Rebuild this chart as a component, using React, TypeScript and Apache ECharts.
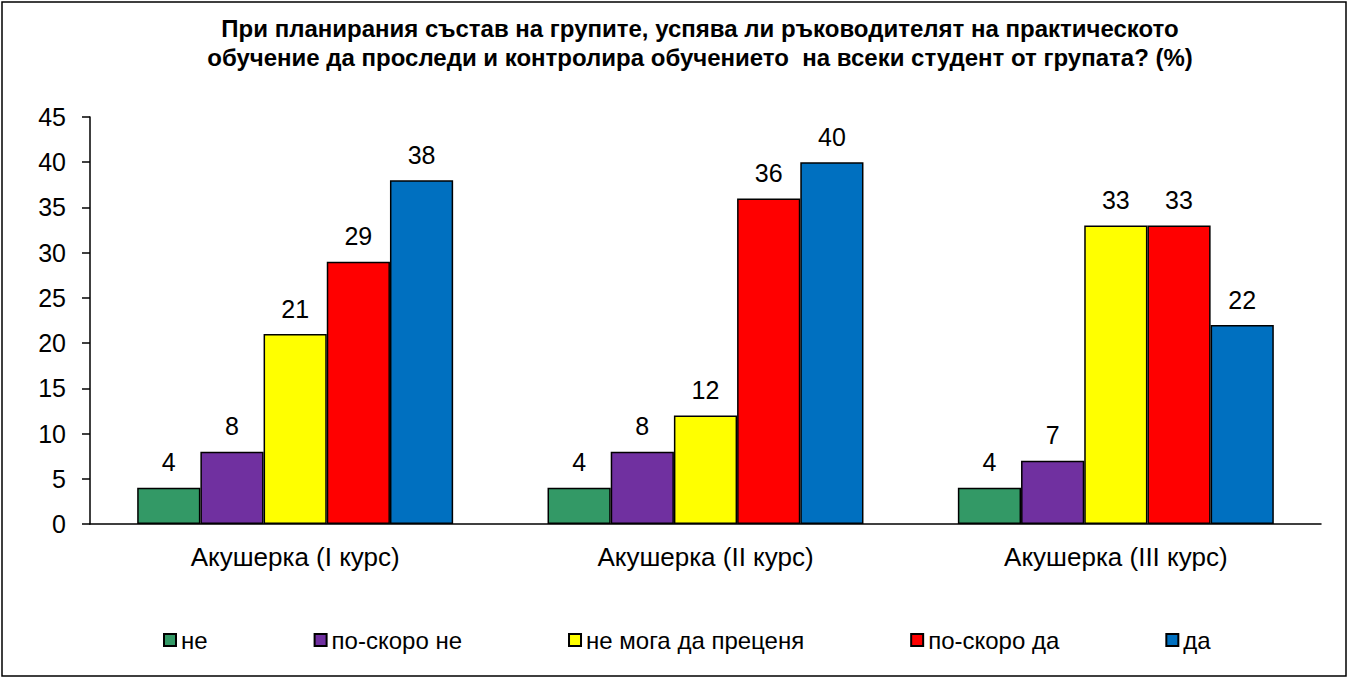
import React, { useEffect, useRef } from "react";
import * as echarts from "echarts";

const titleLines = [
  "При планирания състав на групите, успява ли ръководителят на практическото",
  "обучение да проследи и контролира обучението  на всеки студент от групата? (%)",
];
const categories = ["Акушерка (I курс)", "Акушерка (II курс)", "Акушерка (III курс)"];
const seriesNames = ["не", "по-скоро не", "не мога да преценя", "по-скоро да", "да"];
const seriesColors = ["#339966", "#7030A0", "#FFFF00", "#FF0000", "#0070C0"];
const neValues = [4, 4, 4];
const poSkoroNeValues = [8, 8, 7];
const neMogaValues = [21, 12, 33];
const poSkoroDaValues = [29, 36, 33];
const daValues = [38, 40, 22];
const seriesValues = [neValues, poSkoroNeValues, neMogaValues, poSkoroDaValues, daValues];

const FONT = "'Liberation Sans', Arial, sans-serif";

export default function App() {
  const ref = useRef<HTMLDivElement>(null);
  useEffect(() => {
    document.body.style.margin = "0";
    const chart = echarts.init(ref.current!, null, { renderer: "svg" });
    chart.setOption({
      animation: false,
      backgroundColor: "#ffffff",
      textStyle: { fontFamily: FONT },
      graphic: [
        {
          type: "rect",
          shape: { x: 2, y: 2, width: 1344, height: 674 },
          style: { fill: "none", stroke: "#000", lineWidth: 1.5 },
          silent: true,
        },
        {
          type: "text",
          x: 700,
          y: 14,
          silent: true,
          style: {
            text: titleLines.join("\n"),
            align: "center",
            verticalAlign: "top",
            fontFamily: FONT,
            fontSize: 24,
            fontWeight: "bold",
            lineHeight: 29,
            fill: "#000",
          },
        },
      ],
      legend: {
        left: 158,
        top: 623,
        itemGap: 106,
        itemWidth: 12,
        itemHeight: 12,
        icon: "rect",
        textStyle: { fontFamily: FONT, fontSize: 24, color: "#000" },
        data: seriesNames,
      },
      grid: { left: 90, right: 30, top: 117, bottom: 155 },
      xAxis: {
        type: "category",
        data: categories,
        axisLine: { lineStyle: { color: "#000", width: 1.5 } },
        axisTick: { length: 8, lineStyle: { color: "#000", width: 1.5 } },
        axisLabel: { fontFamily: FONT, fontSize: 26, color: "#000", margin: 20 },
      },
      yAxis: {
        type: "value",
        min: 0,
        max: 45,
        interval: 5,
        axisLine: { show: true, lineStyle: { color: "#000", width: 1.5 } },
        axisTick: { show: true, length: 8, lineStyle: { color: "#000", width: 1.5 } },
        axisLabel: { fontFamily: FONT, fontSize: 25, color: "#000", margin: 24 },
        splitLine: { show: false },
      },
      series: seriesNames.map((name, i) => ({
        name,
        type: "bar",
        data: seriesValues[i],
        barGap: "0%",
        barCategoryGap: "23%",
        itemStyle: { color: seriesColors[i], borderColor: "#000", borderWidth: 1.5 },
        label: {
          show: true,
          position: "top",
          distance: 13,
          fontFamily: FONT,
          fontSize: 25,
          color: "#000",
        },
      })),
    });
    return () => chart.dispose();
  }, []);
  return <div ref={ref} style={{ width: 1351, height: 679 }} />;
}
